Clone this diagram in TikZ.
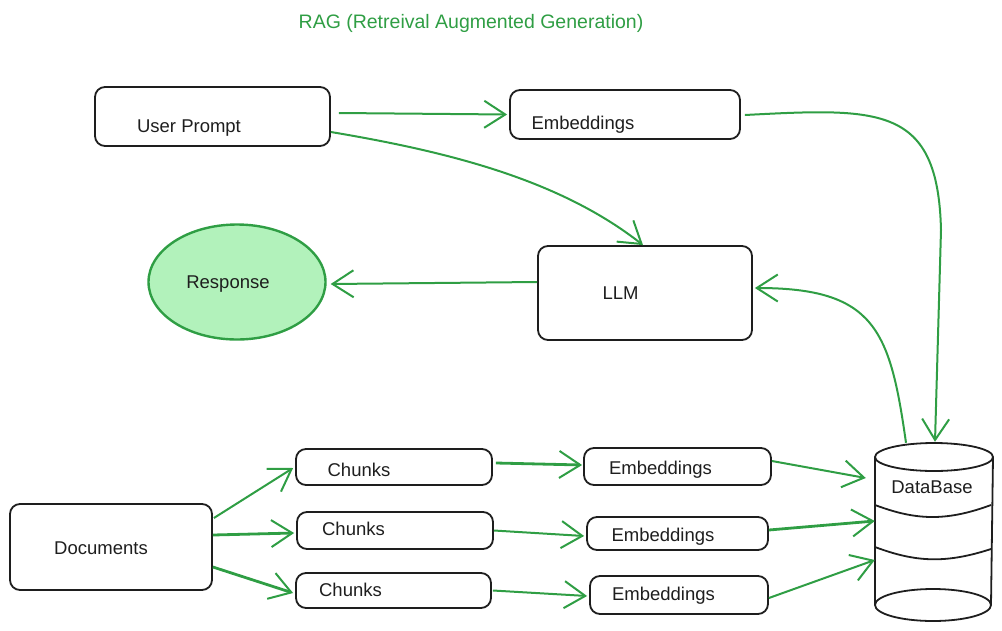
\documentclass[tikz,border=0pt]{standalone}
\usepackage{fontspec}
\setmainfont{Liberation Sans}
\usetikzlibrary{arrows.meta,calc,shapes.geometric}
\definecolor{ink}{HTML}{1E1E1E}
\definecolor{leaf}{HTML}{2F9E44}
\definecolor{mint}{HTML}{B2F2BB}
\begin{document}
\begin{tikzpicture}[x=1pt,y=-1pt,
  box/.style={draw=ink,line width=1.8pt,rounded corners=10pt,inner sep=0pt},
  lbl/.style={anchor=base,inner sep=0pt,text=ink,font=\fontsize{18.5}{22}\selectfont},
  vtip/.tip={Straight Barb[length=21pt,width=27pt,line width=2pt]},
  flow/.style={draw=leaf,line width=2pt,-vtip},
  thick flow/.style={flow,line width=2.8pt}]
\useasboundingbox (0,0) rectangle (1002,630);

% title
\node[anchor=base,inner sep=0pt,text=leaf,font=\fontsize{19.5}{23}\selectfont] (title) at (471,28) {RAG (Retreival Augmented Generation)};

% query side
\node[box,minimum width=235pt,minimum height=59pt] (up) at (212.5,116.5) {};
\node[lbl] (uptxt) at (189,132) {User Prompt};
\node[box,minimum width=230pt,minimum height=49pt] (embT) at (625,114.5) {};
\node[lbl] (embTtxt) at (583,129) {Embeddings};
\node[box,minimum width=214pt,minimum height=94pt] (llm) at (645,293) {};
\node[lbl] (llmtxt) at (620.5,299) {LLM};
\node[draw=leaf,fill=mint,line width=2.4pt,ellipse,minimum width=177pt,minimum height=115pt,inner sep=0pt] (resp) at (237,282) {};
\node[lbl] (resptxt) at (228,288) {Response};

% ingestion side
\node[box,minimum width=202pt,minimum height=86pt] (docs) at (111,547) {};
\node[lbl] (docstxt) at (101,554) {Documents};
\node[box,minimum width=196pt,minimum height=36pt] (ch1) at (394,467) {};
\node[lbl] (ch1txt) at (359,476) {Chunks};
\node[box,minimum width=196pt,minimum height=37pt] (ch2) at (395,530.5) {};
\node[lbl] (ch2txt) at (353.5,535) {Chunks};
\node[box,minimum width=195pt,minimum height=35pt] (ch3) at (393.5,590.5) {};
\node[lbl] (ch3txt) at (350.5,596) {Chunks};
\node[box,minimum width=187pt,minimum height=37pt] (em1) at (677.5,466.5) {};
\node[lbl] (em1txt) at (660.5,474) {Embeddings};
\node[box,minimum width=181pt,minimum height=33pt] (em2) at (677.5,533.5) {};
\node[lbl] (em2txt) at (663,541) {Embeddings};
\node[box,minimum width=178pt,minimum height=38pt] (em3) at (679,595) {};
\node[lbl] (em3txt) at (663.5,600) {Embeddings};

% database cylinder
\node[minimum width=118pt,minimum height=178pt,inner sep=0pt] (db) at (934,531) {};
\begin{scope}[shift={(db.center)},draw=ink,line width=1.8pt]
  \draw[fill=white] (0,-74) ellipse [x radius=59, y radius=14];
  \draw (-59,-74) -- (-59,74);
  \draw (59,-74) -- (57,74);
  \draw (-1,74) ellipse [x radius=58, y radius=16];
  \draw (-59,-26) .. controls (-19,-11) and (11,-9) .. (57,-26);
  \draw (-59,16) .. controls (-19,31) and (11,33) .. (57,18);
\end{scope}
\node[lbl] (dbtxt) at (932,493) {DataBase};

% query flow
\draw[flow] ($(up.east)+(8,-3.5)$) -- ($(embT.west)+(-2,0)$);
\draw[flow] ($(up.east)+(0,15.5)$) .. controls (450,152) and (560,180) .. ($(llm.north)+(-2,0)$);
\draw[flow] ($(embT.east)+(4,0.5)$) .. controls (880,108) and (938,105) .. (941,230) -- ($(db.north)+(1,0)$);
\draw[flow] ($(db.north)+(-28,1)$) .. controls (890,330) and (875,288) .. ($(llm.east)+(2,-5)$);
\draw[flow] ($(llm.west)+(0,-11)$) -- ($(resp.east)+(4,2)$);

% ingestion flow
\draw[flow] ($(docs.east)+(1,-29)$) -- ($(ch1.west)+(-2,1)$);
\draw[thick flow] ($(docs.east)+(0,-12)$) -- ($(ch2.west)+(-2,2.5)$);
\draw[thick flow] ($(docs.east)+(0,20)$) -- ($(ch3.west)+(-2,2.5)$);
\draw[thick flow] ($(ch1.east)+(3,-4)$) -- ($(em1.west)+(-1,-1.5)$);
\draw[flow] (ch2.east) -- ($(em2.west)+(-2,2.5)$);
\draw[flow] ($(ch3.east)+(1,0)$) -- ($(em3.west)+(-2,1)$);
\draw[flow] ($(em1.east)+(0,-5.5)$) -- ($(db.west)+(-9,-53)$);
\draw[thick flow] ($(em2.east)+(0,-3.5)$) -- ($(db.west)+(0,-10)$);
\draw[flow] ($(em3.east)+(0,3)$) -- ($(db.west)+(0,29)$);
\end{tikzpicture}
\end{document}
